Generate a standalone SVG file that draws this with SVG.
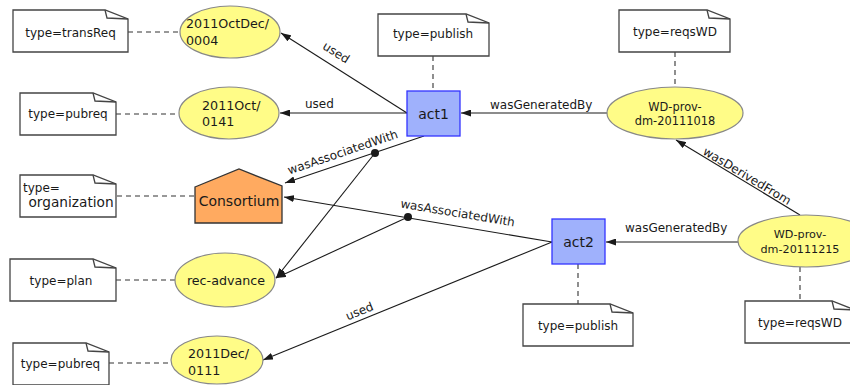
<svg xmlns="http://www.w3.org/2000/svg" width="850" height="385" viewBox="0 0 850 385">
<defs>
<marker id="arr" markerUnits="userSpaceOnUse" markerWidth="10" markerHeight="7" refX="10" refY="3.5" orient="auto"><path d="M0,0 L10,3.5 L0,7 z" fill="#1a1a1a"/></marker>
<style>
text{font-family:"DejaVu Sans","Liberation Sans",sans-serif;fill:#1a1a1a}
.note path{fill:#fff;stroke:#444;stroke-width:1.3}
.note path.fold{fill:none}
.note text{font-size:12px;text-anchor:middle}
.ent ellipse{fill:#fffc87;stroke:#888;stroke-width:1.2}
.ent text{font-size:12.7px}
.act rect{fill:#9fb1fc;stroke:#3333ff;stroke-width:1.3}
.act text{font-size:14px;text-anchor:middle}
.edge line{stroke:#1a1a1a;stroke-width:1.1;fill:none}
.edge line.arr{marker-end:url(#arr)}
.edge line.dash{stroke:#333;stroke-dasharray:5,4}
.edge text{font-size:12px}
.mid{text-anchor:middle}
</style>
</defs>

<g id="connectors" class="edge">
<line class="dash" x1="128" y1="32" x2="180" y2="32"/>
<line class="dash" x1="116" y1="114" x2="179" y2="114"/>
<line class="dash" x1="117" y1="196" x2="195" y2="196"/>
<line class="dash" x1="116" y1="280" x2="175" y2="280"/>
<line class="dash" x1="109" y1="363" x2="172" y2="363"/>
<line class="dash" x1="433" y1="56" x2="433" y2="91"/>
<line class="dash" x1="675" y1="52" x2="675" y2="87"/>
<line class="dash" x1="578" y1="264" x2="578" y2="304"/>
<line class="dash" x1="800" y1="267" x2="800" y2="301"/>

<line class="arr" x1="407" y1="113" x2="281" y2="33"/>
<text class="mid" x="334" y="56" transform="rotate(32.4 334 56)">used</text>
<line class="arr" x1="407" y1="113" x2="280" y2="113"/>
<text x="305" y="108">used</text>
<line class="arr" x1="607" y1="113" x2="461" y2="113"/>
<text x="490" y="109">wasGeneratedBy</text>
<line class="arr" x1="800" y1="215" x2="676" y2="140"/>
<text class="mid" x="745" y="179.5" transform="rotate(31 745 179.5)">wasDerivedFrom</text>
<line class="arr" x1="738" y1="242" x2="606" y2="242"/>
<text x="625" y="232">wasGeneratedBy</text>
<line class="arr" x1="424" y1="136" x2="285" y2="183"/>
<circle cx="375" cy="153" r="4" fill="#1a1a1a"/>
<line class="arr" x1="375" y1="153" x2="276" y2="278"/>
<text class="mid" x="344" y="156" transform="rotate(-18.7 344 156)">wasAssociatedWith</text>
<line class="arr" x1="552" y1="242" x2="284" y2="197"/>
<circle cx="408" cy="217" r="4" fill="#1a1a1a"/>
<line class="arr" x1="408" y1="217" x2="276" y2="278"/>
<text class="mid" x="457" y="217" transform="rotate(9.5 457 217)">wasAssociatedWith</text>
<line class="arr" x1="552" y1="242" x2="263" y2="360"/>
<text class="mid" x="361" y="315" transform="rotate(-22.2 361 315)">used</text>
</g>

<g id="note-transReq" class="note">
<path d="M13,10 H105 L128,19 V52 H13 Z"/><path class="fold" d="M105,10 L107,18 L128,19"/>
<text x="70.5" y="36.5">type=transReq</text>
</g>
<g id="note-pubreq1" class="note">
<path d="M20,93 H93 L116,102 V135 H20 Z"/><path class="fold" d="M93,93 L95,101 L116,102"/>
<text x="68" y="118">type=pubreq</text>
</g>
<g id="note-organization" class="note">
<path d="M20,175 H93 L116,184 V217 H20 Z"/><path class="fold" d="M93,175 L95,183 L116,184"/>
<text x="23" y="192" style="text-anchor:start">type=</text>
<text x="28.5" y="207" style="text-anchor:start;font-size:13.7px">organization</text>
</g>
<g id="note-plan" class="note">
<path d="M10,259 H93 L116,268 V301 H10 Z"/><path class="fold" d="M93,259 L95,267 L116,268"/>
<text x="61" y="285">type=plan</text>
</g>
<g id="note-pubreq2" class="note">
<path d="M13,343 H86 L109,352 V385 H13 Z"/><path class="fold" d="M86,343 L88,351 L109,352"/>
<text x="60.5" y="368">type=pubreq</text>
</g>
<g id="note-publish1" class="note">
<path d="M378,14 H466 L489,23 V56 H378 Z"/><path class="fold" d="M466,14 L468,22 L489,23"/>
<text x="433" y="38">type=publish</text>
</g>
<g id="note-reqsWD1" class="note">
<path d="M619,10 H707 L730,19 V52 H619 Z"/><path class="fold" d="M707,10 L709,18 L730,19"/>
<text x="675" y="36">type=reqsWD</text>
</g>
<g id="note-publish2" class="note">
<path d="M523,304 H610 L633,313 V346 H523 Z"/><path class="fold" d="M610,304 L612,312 L633,313"/>
<text x="578" y="330">type=publish</text>
</g>
<g id="note-reqsWD2" class="note">
<path d="M745,301 H832 L855,310 V343 H745 Z"/><path class="fold" d="M832,301 L834,309 L855,310"/>
<text x="800" y="327">type=reqsWD</text>
</g>

<g id="e-2011OctDec-0004" class="ent">
<ellipse cx="230" cy="32" rx="50" ry="26"/>
<text x="186" y="28">2011OctDec/</text><text x="186" y="44.5">0004</text>
</g>
<g id="e-2011Oct-0141" class="ent">
<ellipse cx="229" cy="113" rx="50" ry="26"/>
<text x="202" y="110">2011Oct/</text><text x="202" y="126">0141</text>
</g>
<g id="e-rec-advance" class="ent">
<ellipse cx="225" cy="280" rx="50" ry="27"/>
<text x="226" y="285" class="mid">rec-advance</text>
</g>
<g id="e-2011Dec-0111" class="ent">
<ellipse cx="217" cy="360" rx="46" ry="24"/>
<text x="188" y="358">2011Dec/</text><text x="188" y="375">0111</text>
</g>
<g id="e-WD-20111018" class="ent">
<ellipse cx="675" cy="113" rx="68" ry="26"/>
<text x="675" y="110.5" class="mid" style="font-size:11.4px">WD-prov-</text><text x="675" y="125" class="mid" style="font-size:11.4px">dm-20111018</text>
</g>
<g id="e-WD-20111215" class="ent">
<ellipse cx="806" cy="241" rx="68" ry="26"/>
<text x="800" y="238" class="mid" style="font-size:11.2px">WD-prov-</text><text x="800" y="253" class="mid" style="font-size:11.2px">dm-20111215</text>
</g>

<g id="a-act1" class="act">
<rect x="407" y="91" width="53" height="45"/>
<text x="433.5" y="119">act1</text>
</g>
<g id="a-act2" class="act">
<rect x="552" y="219" width="53" height="45"/>
<text x="578.5" y="247">act2</text>
</g>

<g id="ag-Consortium">
<polygon points="195,187 239,169 282,186 282,223 195,223" fill="#ffaa60" stroke="#333" stroke-width="1.3"/>
<text x="239" y="206" text-anchor="middle" style="font-size:14px">Consortium</text>
</g>
</svg>
